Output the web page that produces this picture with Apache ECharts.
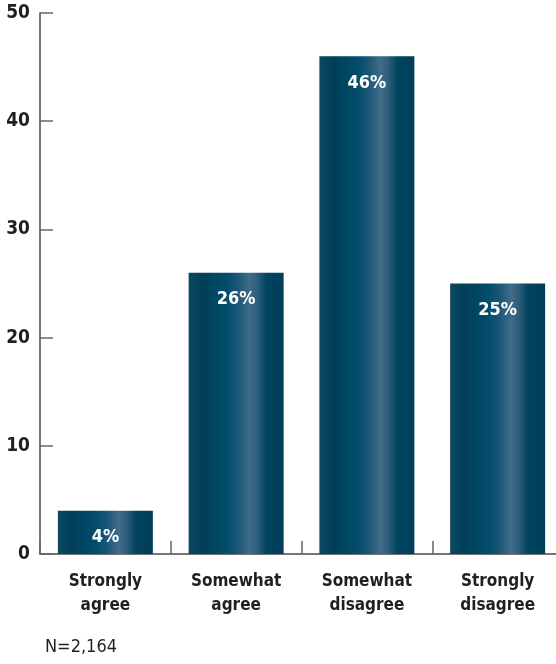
<!DOCTYPE html>
<html>
<head>
<meta charset="utf-8">
<script src="https://cdn.jsdelivr.net/npm/echarts@6/dist/echarts.min.js"></script>
<style>
html,body{margin:0;padding:0;background:#fff;overflow:hidden;}
#chart{width:566px;height:664px;}
</style>
</head>
<body>
<div id="chart"></div>
<script>
const categories = ['Strongly\nagree', 'Somewhat\nagree', 'Somewhat\ndisagree', 'Strongly\ndisagree'];
const values = [4, 26, 46, 25];
const barLabels = ['4%', '26%', '46%', '25%'];
const yTicks = [0, 10, 20, 30, 40, 50];
const note = 'N=2,164';

const FONT = '"DejaVu Sans Condensed", "Liberation Sans Narrow", sans-serif';
const chart = echarts.init(document.getElementById('chart'));
const grad = new echarts.graphic.LinearGradient(0, 0, 1, 0, [
  {offset: 0, color: '#0c4862'},
  {offset: 0.15, color: '#003f59'},
  {offset: 0.40, color: '#014d6b'},
  {offset: 0.52, color: '#1c5676'},
  {offset: 0.64, color: '#416c88'},
  {offset: 0.72, color: '#2f5f7c'},
  {offset: 0.82, color: '#00445f'},
  {offset: 1, color: '#003e59'}
]);
chart.setOption({
  animation: false,
  grid: {left: 40, top: 13, right: 3, bottom: 110, containLabel: false},
  xAxis: {
    type: 'category',
    data: categories,
    boundaryGap: true,
    axisLine: {lineStyle: {color: '#4a4a4a', width: 1.5}},
    axisTick: {show: true, interval: 0, alignWithLabel: false, inside: true, length: 13, lineStyle: {color: '#666', width: 1.5}},
    axisLabel: {
      color: '#231f20', fontFamily: FONT, fontWeight: 'bold', fontSize: 17,
      lineHeight: 24, margin: 16, align: 'center'
    }
  },
  yAxis: {
    type: 'value',
    min: yTicks[0], max: yTicks[yTicks.length - 1], interval: 10,
    splitLine: {show: false},
    axisLine: {show: true, lineStyle: {color: '#4a4a4a', width: 1.5}},
    axisTick: {show: true, inside: true, length: 13, lineStyle: {color: '#666', width: 1.5}},
    axisLabel: {color: '#231f20', fontFamily: FONT, fontWeight: 'bold', fontSize: 19, margin: 10}
  },
  series: [{
    type: 'bar',
    data: values,
    barWidth: 95,
    itemStyle: {color: grad},
    label: {
      show: true, position: 'insideTop', distance: 18,
      formatter: p => barLabels[p.dataIndex],
      color: '#fff', fontFamily: FONT, fontWeight: 'bold', fontSize: 18
    }
  }],
  graphic: [{
    type: 'text', left: 45, top: 638,
    style: {text: note, fill: '#231f20', font: '18px ' + FONT}
  }]
});
</script>
</body>
</html>
